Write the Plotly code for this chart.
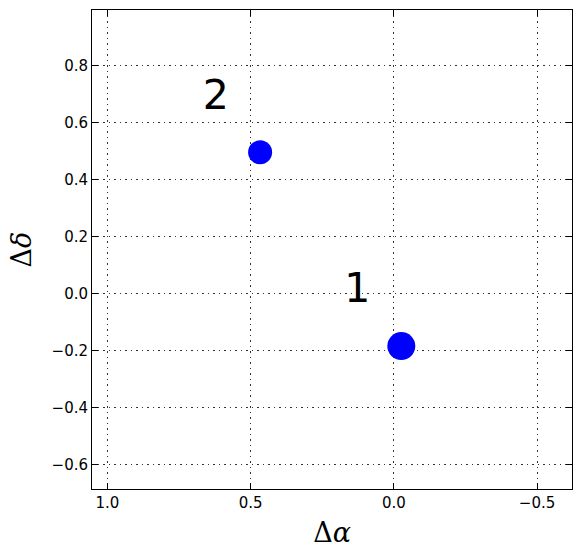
import plotly.graph_objects as go

# data
dalpha = [-0.026, 0.467]
ddelta = [-0.184, 0.495]
marker_sizes = [28, 24]
labels = ["1", "2"]
label_x = [0.128, 0.622]
label_y = [0.005, 0.682]
xticks = [1.0, 0.5, 0.0, -0.5]
xticklabels = ["1.0", "0.5", "0.0", "\u22120.5"]
yticks = [0.8, 0.6, 0.4, 0.2, 0.0, -0.2, -0.4, -0.6]
yticklabels = ["0.8", "0.6", "0.4", "0.2", "0.0", "\u22120.2", "\u22120.4", "\u22120.6"]

fig = go.Figure()
fig.add_trace(go.Scatter(
    x=dalpha, y=ddelta, mode="markers",
    marker=dict(color="#0000ff", size=marker_sizes, opacity=1, line=dict(width=0)),
    opacity=1, showlegend=False, hoverinfo="skip"))
fig.add_trace(go.Scatter(
    x=label_x, y=label_y, mode="text", text=labels,
    textfont=dict(family="DejaVu Sans", size=41, color="black"),
    textposition="middle center", showlegend=False, hoverinfo="skip"))

axis_common = dict(
    showline=True, linecolor="black", linewidth=1, mirror="ticks",
    ticks="inside", ticklen=6, tickcolor="black", tickwidth=1,
    showgrid=True, gridcolor="#333333", gridwidth=1, griddash="1.5px,4px",
    zeroline=False, automargin=False,
    tickfont=dict(family="DejaVu Sans", size=15, color="black"),
)

fig.update_layout(
    width=580, height=558,
    margin=dict(l=92, r=8, t=10, b=69),
    paper_bgcolor="white", plot_bgcolor="white",
    xaxis=dict(range=[1.054, -0.622], tickvals=xticks, ticktext=xticklabels,
               title=dict(text="\u0394<i>\u03b1</i>", font=dict(family="DejaVu Serif", size=27, color="black"),
                          standoff=12),
               **axis_common),
    yaxis=dict(range=[-0.685, 0.994], tickvals=yticks, ticktext=yticklabels,
               title=dict(text="\u0394<i>\u03b4</i>", font=dict(family="DejaVu Serif", size=27, color="black"),
                          standoff=12),
               **axis_common),
)

fig.write_html("out.html", config={"displayModeBar": False},
               post_script="document.body.style.margin='0';document.body.style.overflow='hidden';")
